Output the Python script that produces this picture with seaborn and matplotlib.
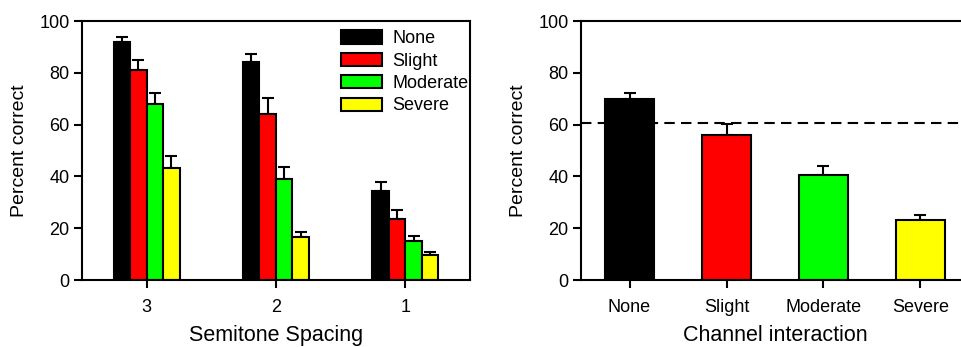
"""
Two-panel bar chart: percent correct by semitone spacing and channel interaction
"""

import numpy as np
import pandas as pd
import matplotlib
matplotlib.use("Agg")
import matplotlib.pyplot as plt
import seaborn as sns

# data
levels = ["None", "Slight", "Moderate", "Severe"]
colors = ["#000000", "#ff0000", "#00ff00", "#ffff00"]
spacings = ["3", "2", "1"]

# left panel, one list per interaction level, ordered by spacing 3, 2, 1
none_mean = [91.9, 84.2, 34.2]
slight_mean = [81.0, 64.3, 23.4]
moderate_mean = [68.0, 38.9, 14.9]
severe_mean = [43.1, 16.8, 9.5]
none_err = [1.9, 3.2, 3.6]
slight_err = [4.1, 6.1, 3.5]
moderate_err = [4.2, 4.8, 2.2]
severe_err = [4.8, 1.7, 1.3]

# right panel
overall_mean = [70.0, 56.2, 40.7, 23.0]
overall_err = [2.1, 4.2, 3.3, 2.2]
chance_level = 60.8


def setup_plotting():
    sns.set_style("ticks")
    plt.rcParams["font.family"] = ["Liberation Sans", "DejaVu Sans"]
    plt.rcParams["axes.linewidth"] = 1.5
    plt.rcParams["xtick.major.width"] = 1.5
    plt.rcParams["ytick.major.width"] = 1.5
    plt.rcParams["xtick.major.size"] = 6
    plt.rcParams["ytick.major.size"] = 6
    plt.rcParams["xtick.direction"] = "out"
    plt.rcParams["ytick.direction"] = "out"
    plt.rcParams["xtick.color"] = "black"
    plt.rcParams["ytick.color"] = "black"
    plt.rcParams["xtick.labelcolor"] = "black"
    plt.rcParams["ytick.labelcolor"] = "black"
    plt.rcParams["axes.labelcolor"] = "black"
    plt.rcParams["text.color"] = "black"
    plt.rcParams["axes.edgecolor"] = "black"


def add_errorbars(ax, containers, errs):
    # upward-only error bars on top of each bar
    for cont, err in zip(containers, errs):
        xs = [p.get_x() + p.get_width() / 2 for p in cont.patches]
        ys = [p.get_height() for p in cont.patches]
        ax.errorbar(xs, ys, yerr=[np.zeros(len(err)), err], fmt="none",
                    ecolor="black", elinewidth=1.5, capsize=4, capthick=1.5, zorder=1)


def style_axis(ax):
    ax.set_ylim(0, 100)
    ax.set_yticks([0, 20, 40, 60, 80, 100])
    ax.tick_params(axis="y", labelsize=13, pad=3)
    ax.tick_params(axis="x", labelsize=13, pad=8)
    ax.set_ylabel("Percent correct", fontsize=14, labelpad=8)
    for s in ax.spines.values():
        s.set_visible(True)
        s.set_linewidth(1.5)


setup_plotting()
fig = plt.figure(figsize=(9.61, 3.47), dpi=100)
ax1 = fig.add_axes([0.0853, 0.193, 0.4037, 0.746])
ax2 = fig.add_axes([0.6046, 0.193, 0.4037, 0.746])

# left panel
left_df = pd.DataFrame({
    "spacing": spacings * 4,
    "level": np.repeat(levels, 3),
    "value": none_mean + slight_mean + moderate_mean + severe_mean,
})
sns.barplot(data=left_df, x="spacing", y="value", hue="level", order=spacings,
            hue_order=levels, palette=colors, width=0.51, edgecolor="black",
            linewidth=1.5, errorbar=None, saturation=1, ax=ax1, zorder=2)
add_errorbars(ax1, ax1.containers, [none_err, slight_err, moderate_err, severe_err])
ax1.set_xlim(-0.5, 2.5)
style_axis(ax1)
ax1.set_xlabel("Semitone Spacing", fontsize=15.5, labelpad=6)
ax1.legend(loc="upper left", bbox_to_anchor=(0.667, 0.965), frameon=False,
           fontsize=13, handlelength=2.3, handleheight=0.75, handletextpad=0.55,
           labelspacing=0.3, borderpad=0, borderaxespad=0)

# right panel
right_df = pd.DataFrame({"level": levels, "value": overall_mean})
sns.barplot(data=right_df, x="level", y="value", hue="level", order=levels,
            hue_order=levels, palette=colors, width=0.5, edgecolor="black",
            linewidth=1.5, errorbar=None, saturation=1, legend=False, ax=ax2, zorder=2)
cont = ax2.containers
if len(cont) == 1:
    add_errorbars(ax2, cont, [overall_err])
else:
    add_errorbars(ax2, cont, [[e] for e in overall_err])
ax2.axhline(chance_level, color="black", linestyle=(0, (5, 3)), linewidth=1.5, zorder=1)
ax2.set_xlim(-0.5, 3.5)
style_axis(ax2)
ax2.set_xlabel("Channel interaction", fontsize=15.5, labelpad=6)

fig.savefig("out.png", dpi=100)
